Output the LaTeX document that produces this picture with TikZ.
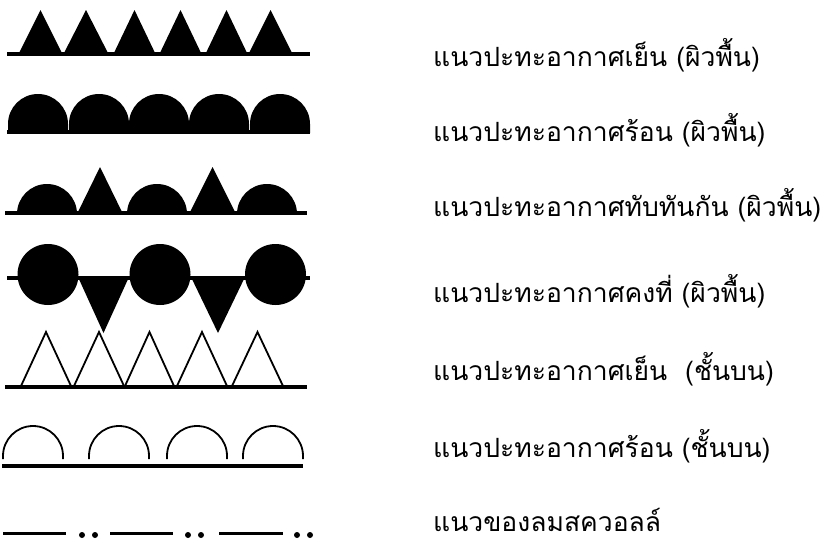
\documentclass[tikz,border=0pt]{standalone}
\usepackage{fontspec}
\newfontfamily\thaifont[Script=Thai]{Loma}
\begin{document}
\begin{tikzpicture}[x=1pt,y=-1pt,
  lbl/.style={anchor=base west,inner sep=0pt,text depth=0pt,font=\thaifont\fontsize{26.5}{30}\selectfont},
  base/.style={line width=3.5pt},
  outl/.style={line width=1.8pt,line join=miter}]
\useasboundingbox (0,0) rectangle (828,541);
% Row 1: cold front (surface)
\draw[base] (7,54) -- (310,54);
\foreach \a/\b in {18/63,63/109,113/156,159/202,205/248,248/293}
  \fill ({\a},55) -- ({(\a+\b)/2},10) -- ({\b},55) -- cycle;
% Row 2: warm front (surface)
\draw[base] (7,132) -- (310,132);
\foreach \c in {38,99,159,219,280}
  \fill ({\c-30},133) -- ({\c-30},124) arc[start angle=180,end angle=360,radius=30] -- ({\c+30},133) -- cycle;
% Row 3: occluded front (surface)
\draw[base] (5,213) -- (307,213);
\foreach \c in {47,157,267}
  \fill ({\c-30},214) arc[start angle=180,end angle=360,radius=30] -- cycle;
\foreach \a/\b in {77/123,189/236}
  \fill ({\a},214) -- ({(\a+\b)/2},167) -- ({\b},214) -- cycle;
% Row 4: stationary front (surface)
\draw[base] (7,278) -- (310,278);
\foreach \c in {48,160,275.5}
  \fill ({\c},274.5) circle[radius=30.5];
\foreach \a/\b in {78/129,191/245}
  \fill ({\a},277) -- ({(\a+\b)/2},333) -- ({\b},277) -- cycle;
% Row 5: cold front (upper)
\draw[base] (5,387) -- (307,387);
\foreach \a/\b in {21/71,74/124,125/174,177/227,232/283}
  \draw[outl] ({\a},386) -- ({(\a+\b)/2},332) -- ({\b},386);
% Row 6: warm front (upper)
\draw[base] (2,466) -- (303,466);
\foreach \c in {33,119,197,273}
  \draw[outl] ({\c-30},459) -- ({\c-30},456) arc[start angle=180,end angle=360,radius=30] -- ({\c+30},459);
% Row 7: squall line
\foreach \a/\b in {3/66,110/173,219/283}
  \draw[base] ({\a},533.5) -- ({\b},533.5);
\foreach \x in {82,95,188,201,297,310}
  \fill ({\x},535) circle[radius=3];
% Labels
\node[lbl] (l1) at (433,66) {แนวปะทะอากาศเย็น (ผิวพื้น)};
\node[lbl] (l2) at (433,141) {แนวปะทะอากาศร้อน (ผิวพื้น)};
\node[lbl] (l3) at (433,216) {แนวปะทะอากาศทับทันกัน (ผิวพื้น)};
\node[lbl] (l4) at (433,302) {แนวปะทะอากาศคงที่ (ผิวพื้น)};
\node[lbl] (l5) at (433,380) {แนวปะทะอากาศเย็น \ (ชั้นบน)};
\node[lbl] (l6) at (433,457) {แนวปะทะอากาศร้อน (ชั้นบน)};
\node[lbl] (l7) at (433,531) {แนวของลมสควอลล์};
\end{tikzpicture}
\end{document}
